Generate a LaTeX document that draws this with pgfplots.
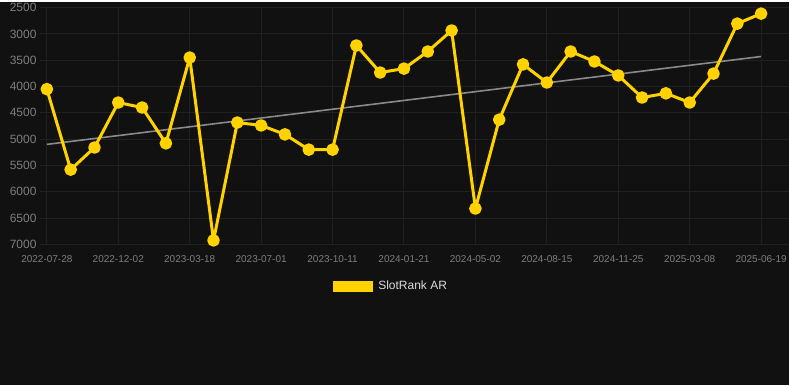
\documentclass[border=0pt]{standalone}
\usepackage{pgfplots}
\pgfplotsset{compat=1.18}
\usepackage{fontspec}
\setmainfont{Liberation Sans}
\definecolor{bgc}{HTML}{111111}
\definecolor{gridc}{HTML}{202020}
\definecolor{tickc}{HTML}{7E7E7E}
\definecolor{linec}{HTML}{FFD200}
\definecolor{trendc}{HTML}{8A8A8A}
\definecolor{legc}{HTML}{DDDDDD}
\begin{document}
\begin{tikzpicture}[x=1pt,y=1pt]
\fill[bgc] (0,0) rectangle (790,384);
\begin{axis}[
  at={(40pt,141pt)}, anchor=south west,
  scale only axis, width=750pt, height=237pt,
  xmin=-0.29, xmax=31.18,
  ymin=2500, ymax=7000, y dir=reverse,
  ytick={2500,3000,...,7000},
  xtick={0,3,...,30},
  xticklabels={2022-07-28,2022-12-02,2023-03-18,2023-07-01,2023-10-11,2024-01-21,2024-05-02,2024-08-15,2024-11-25,2025-03-08,2025-06-19},
  /pgf/number format/assume math mode=true,
  /pgf/number format/1000 sep={},
  yticklabel style={font=\fontsize{12}{14}\selectfont, text=tickc},
  xticklabel style={font=\fontsize{10}{12}\selectfont, text=tickc, yshift=-8pt},
  major tick length=0pt,
  axis line style={draw=none},
  grid=major,
  major grid style={draw=gridc, line width=1pt},
  clip=false,
  legend style={at={(0.4687,-0.177)}, anchor=center, draw=none, fill=none,
    text=legc, font=\fontsize{12}{14}\selectfont,
    /tikz/every odd column/.append style={column sep=3pt}},
  legend image code/.code={\path[fill=linec, draw=none] (0pt,-5.5pt) rectangle (40pt,5.5pt);},
]
\addplot[trendc, line width=1.6pt, forget plot] coordinates {(0,5100) (30,3430)};
\addplot[linec, line width=3pt, line join=round, mark=*, mark size=4.8pt, mark options={solid, fill=linec, draw=none}] coordinates {
(0,4050) (1,5580) (2,5160) (3,4305) (4,4400) (5,5080) (6,3450) (7,6925)
(8,4685) (9,4740) (10,4910) (11,5200) (12,5200) (13,3220) (14,3735) (15,3660)
(16,3335) (17,2935) (18,6320) (19,4630) (20,3580) (21,3925) (22,3335) (23,3525)
(24,3790) (25,4210) (26,4130) (27,4305) (28,3755) (29,2805) (30,2615)
};
\addlegendentry{SlotRank AR}
\end{axis}
\end{tikzpicture}
\end{document}
